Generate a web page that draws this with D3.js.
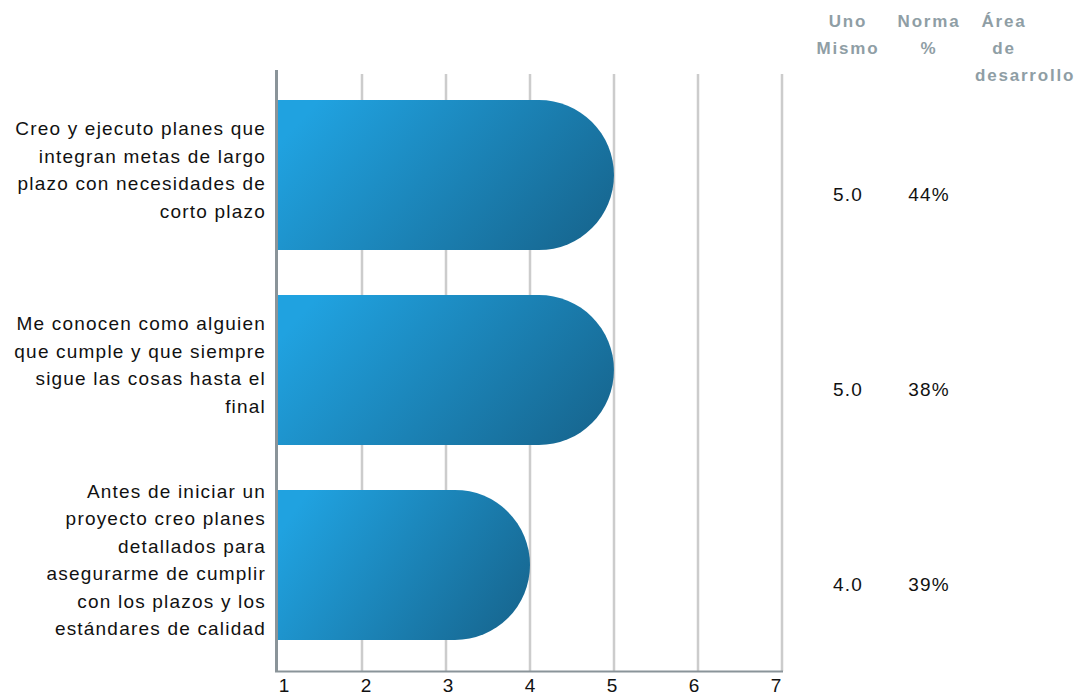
<!DOCTYPE html>
<html>
<head>
<meta charset="utf-8">
<script src="https://cdn.jsdelivr.net/npm/d3@7"></script>
<style>
  body { margin: 0; background: #fff; }
  svg { font-family: "Liberation Sans", Arial, sans-serif; }
</style>
</head>
<body>
<svg id="chart" width="1083" height="695"></svg>
<script>
// data
const labels = [
  ["Creo y ejecuto planes que", "integran metas de largo", "plazo con necesidades de", "corto plazo"],
  ["Me conocen como alguien", "que cumple y que siempre", "sigue las cosas hasta el", "final"],
  ["Antes de iniciar un", "proyecto creo planes", "detallados para", "asegurarme de cumplir", "con los plazos y los", "estándares de calidad"]
];
const scores = [5.0, 5.0, 4.0];
const norma = ["44%", "38%", "39%"];
const ticks = [1, 2, 3, 4, 5, 6, 7];
const headers = [["Uno", "Mismo"], ["Norma", "%"], ["Área", "de", "desarrollo"]];

const svg = d3.select("#chart");
const fs = 19, ls = 1.2;

let x = d3.scaleLinear().domain([1, 7]).range([278, 782]);
// tick labels sit slightly inside the ends
let xLab = d3.scaleLinear().domain([1, 7]).range([x(1) + 6, x(7) - 6]);
let y = d3.scaleBand().domain(d3.range(scores.length)).range([80.5, 659.5]).paddingInner(0.23).paddingOuter(0.1);

// gradient
let defs = svg.append("defs");
let grad = defs.append("linearGradient").attr("id", "barGrad")
  .attr("x1", "0%").attr("y1", "30%").attr("x2", "100%").attr("y2", "70%");
grad.append("stop").attr("offset", "0%").attr("stop-color", "#20a2e0");
grad.append("stop").attr("offset", "100%").attr("stop-color", "#176892");

// gridlines
svg.selectAll(".grid")
  .data(ticks.slice(1))
  .enter().append("line")
  .attr("x1", d => x(d)).attr("x2", d => x(d))
  .attr("y1", 74).attr("y2", 671)
  .attr("stroke", "#cccccc").attr("stroke-width", 2.5);

// bars with rounded end
svg.selectAll(".bar")
  .data(scores)
  .enter().append("path")
  .attr("fill", "url(#barGrad)")
  .attr("d", (d, i) => {
    let y0 = y(i), h = y.bandwidth(), r = h / 2;
    let x0 = x(1), x1 = x(d);
    return `M${x0},${y0} H${x1 - r} A${r},${r} 0 0 1 ${x1 - r},${y0 + h} H${x0} Z`;
  });

// axes lines
svg.append("line").attr("x1", 276.5).attr("x2", 276.5).attr("y1", 70).attr("y2", 672)
  .attr("stroke", "#8a9499").attr("stroke-width", 3);
svg.append("line").attr("x1", 275).attr("x2", 783).attr("y1", 671.5).attr("y2", 671.5)
  .attr("stroke", "#8a9499").attr("stroke-width", 2);

// tick labels
svg.selectAll(".tick")
  .data(ticks)
  .enter().append("text")
  .attr("x", d => xLab(d)).attr("y", 692)
  .attr("text-anchor", "middle")
  .attr("font-size", fs).attr("fill", "#111")
  .text(d => d);

// category labels
labels.forEach((lines, i) => {
  let cy = y(i) + y.bandwidth() / 2;
  let lh = 27.4;
  let top = cy - (lines.length - 1) * lh / 2;
  let t = svg.append("text").attr("text-anchor", "end").attr("font-size", fs)
    .attr("letter-spacing", ls).attr("fill", "#111");
  lines.forEach((l, j) => {
    t.append("tspan").attr("x", 266).attr("y", top + j * lh + 1.5).text(l);
  });
});

// header
const colX = [848, 929, 1004];
headers.forEach((lines, i) => {
  let t = svg.append("text").attr("font-size", 17)
    .attr("font-weight", "bold").attr("fill", "#8f9ea5").attr("letter-spacing", 1.8);
  lines.forEach((l, j) => {
    let wide = l.length > 6;
    t.append("tspan")
      .attr("x", wide ? colX[i] - 29 : colX[i])
      .attr("text-anchor", wide ? "start" : "middle")
      .attr("y", 26.5 + j * 27).text(l);
  });
});

// values
scores.forEach((s, i) => {
  let cy = y(i) + y.bandwidth() / 2 + 26;
  svg.append("text").attr("x", colX[0]).attr("y", cy).attr("text-anchor", "middle")
    .attr("font-size", fs).attr("letter-spacing", ls).attr("fill", "#111").text(d3.format(".1f")(s));
  svg.append("text").attr("x", colX[1]).attr("y", cy).attr("text-anchor", "middle")
    .attr("font-size", fs).attr("letter-spacing", ls).attr("fill", "#111").text(norma[i]);
});
</script>
</body>
</html>
